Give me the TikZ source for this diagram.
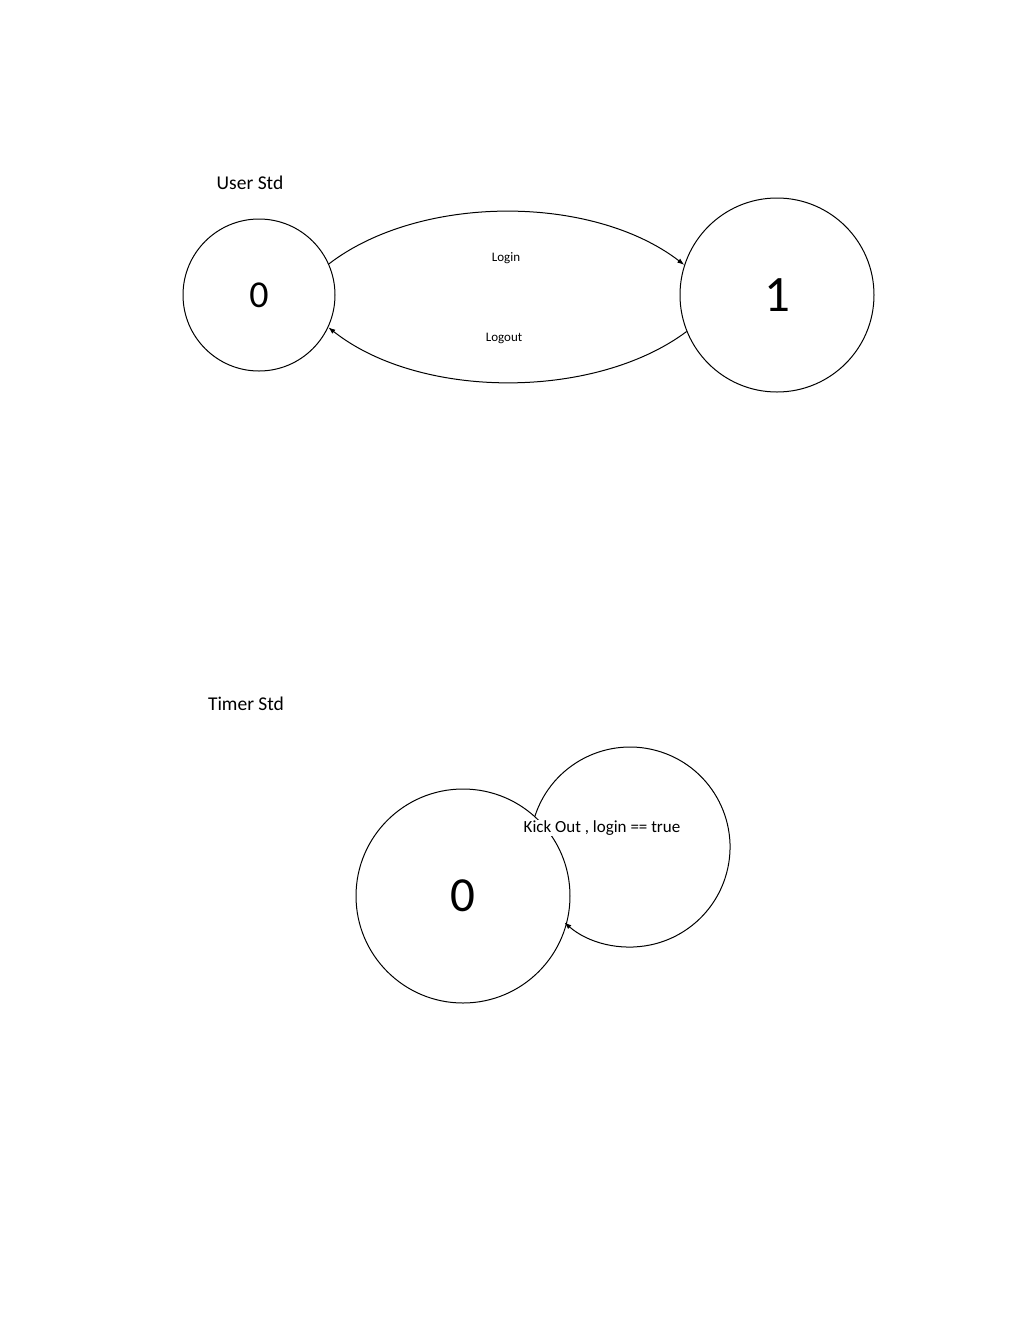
\documentclass[tikz,border=0pt]{standalone}
\usepackage{fontspec}
\setmainfont{Carlito}
\usetikzlibrary{arrows.meta}
\tikzset{
  state/.style={circle, draw, line width=1pt, inner sep=0pt, minimum size=#1},
  edge/.style={line width=1pt, -{Latex[length=7pt,width=5pt]}},
  titlelbl/.style={font=\fontsize{19.5}{24}\selectfont},
  edgelbl/.style={font=\fontsize{13}{15}\selectfont},
}
\begin{document}
\begin{tikzpicture}[x=1pt,y=-1pt]
\useasboundingbox[fill=white] (0,0) rectangle (1030,1334);
% User Std
\node[titlelbl] (usertitle) at (250,183) {User Std};
\node[state=152pt, font=\fontsize{38}{44}\selectfont] (u0) at (259,295) {0};
\node[state=194pt, font=\fontsize{51}{58}\selectfont] (u1) at (777,295) {1};
\draw[edge] (u0.24) .. controls (420,194) and (592,194) .. (u1.162);
\draw[edge] (u1.202) .. controls (595,400) and (420,400) .. (u0.335);
\node[edgelbl] (loginlbl) at (506,258) {Login};
\node[edgelbl] (logoutlbl) at (504,338) {Logout};
% Timer Std
\node[titlelbl] (timertitle) at (246,704) {Timer Std};
\node[state=214pt, font=\fontsize{49}{56}\selectfont] (t0) at (463,896) {0};
\draw[edge] (t0.48) arc[start angle=198, end angle=491, radius=100];
\node[font=\fontsize{17}{20}\selectfont, fill=white, inner sep=1pt] (kicklbl) at (602,828) {Kick Out , login == true};
\end{tikzpicture}
\end{document}
